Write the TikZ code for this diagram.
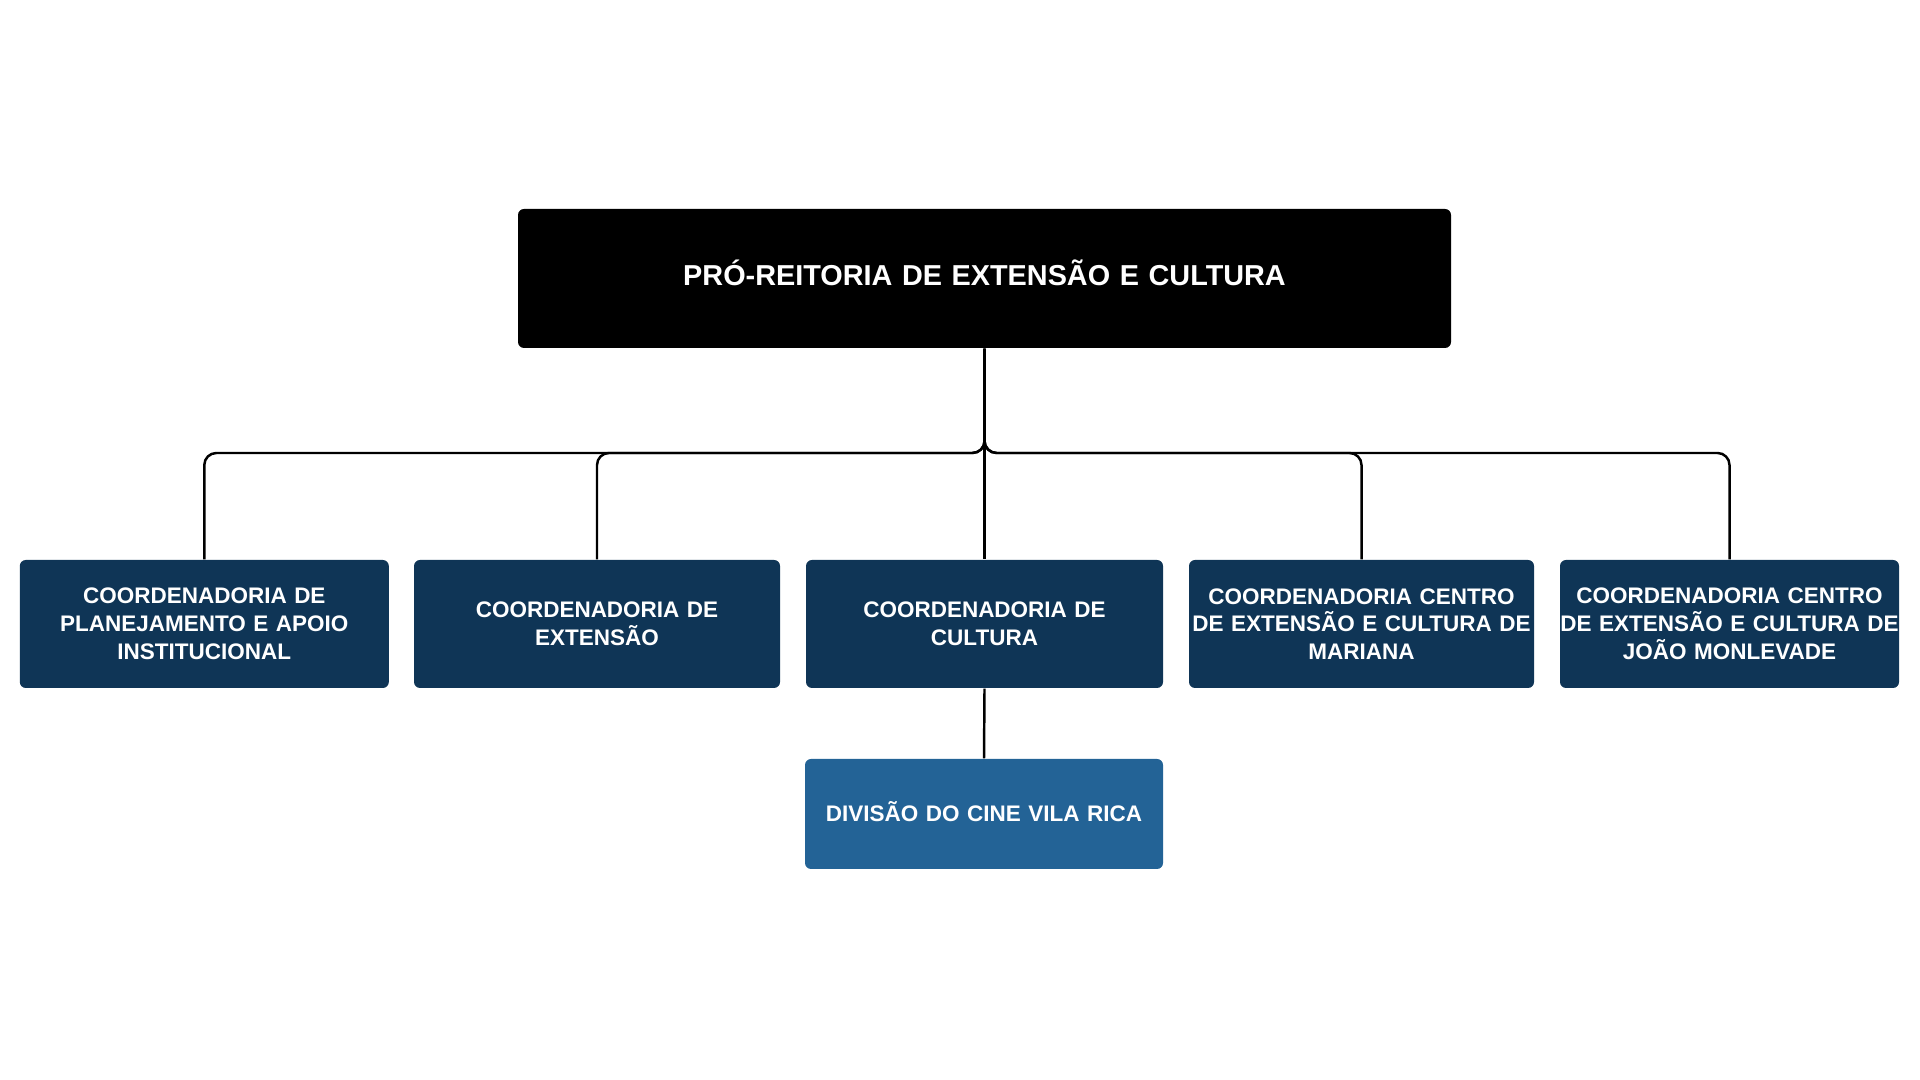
\documentclass[tikz,border=0pt]{standalone}
\usepackage{fontspec}
\setmainfont{Liberation Sans}
\usepackage{tikz}

\definecolor{navy}{HTML}{0F3556}
\definecolor{steel}{HTML}{236396}

\begin{document}
\begin{tikzpicture}
    \tikzstyle{every node}=[rectangle,rounded corners=0.6mm,inner sep=0pt,
                            text=white,align=center,
                            font=\bfseries\fontsize{6.4}{7.9}\selectfont]
    \tikzstyle{coordbox}=[fill=navy,minimum height=1.28cm]
    \tikzstyle{link}=[line width=0.7pt,rounded corners=1.2mm]

    \useasboundingbox (0,0) rectangle (19.2,10.8);

      \node (pro) [fill=black,text width=9.33cm,minimum height=1.39cm,
                   font=\bfseries\fontsize{8.2}{10}\selectfont] at (9.845,8.015)
           {\raisebox{1.2mm}{PRÓ-REITORIA DE EXTENSÃO E CULTURA}};

      \node (plan) [coordbox,text width=3.69cm] at (2.043,4.56)
           {COORDENADORIA DE\\PLANEJAMENTO E APOIO\\INSTITUCIONAL};
      \node (ext) [coordbox,text width=3.66cm] at (5.97,4.56)
           {COORDENADORIA DE\\EXTENSÃO};
      \node (cult) [coordbox,text width=3.57cm] at (9.845,4.56)
           {COORDENADORIA DE\\CULTURA};
      \node (mar) [coordbox,text width=3.45cm] at (13.615,4.56)
           {COORDENADORIA CENTRO\\DE EXTENSÃO E CULTURA DE\\MARIANA};
      \node (jm) [coordbox,text width=3.39cm] at (17.295,4.56)
           {COORDENADORIA CENTRO\\DE EXTENSÃO E CULTURA DE\\JOÃO MONLEVADE};

      \node (cine) [fill=steel,text width=3.58cm,minimum height=1.10cm] at (9.84,2.66)
           {\raisebox{0.6mm}{DIVISÃO DO CINE VILA RICA}};

      \coordinate (bus) at (9.845,6.27);

      \draw[link] (pro.south) -- (pro.south |- bus) -| (plan.north);
      \draw[link] (pro.south) -- (pro.south |- bus) -| (ext.north);
      \draw[link] (pro.south) -- (pro.south |- bus) -| (mar.north);
      \draw[link] (pro.south) -- (pro.south |- bus) -| (jm.north);
      \draw[link] (pro.south) -- (cult.north);
      \draw[link] (cult.south) -- (cine.north);
    \end{tikzpicture}
\end{document}
